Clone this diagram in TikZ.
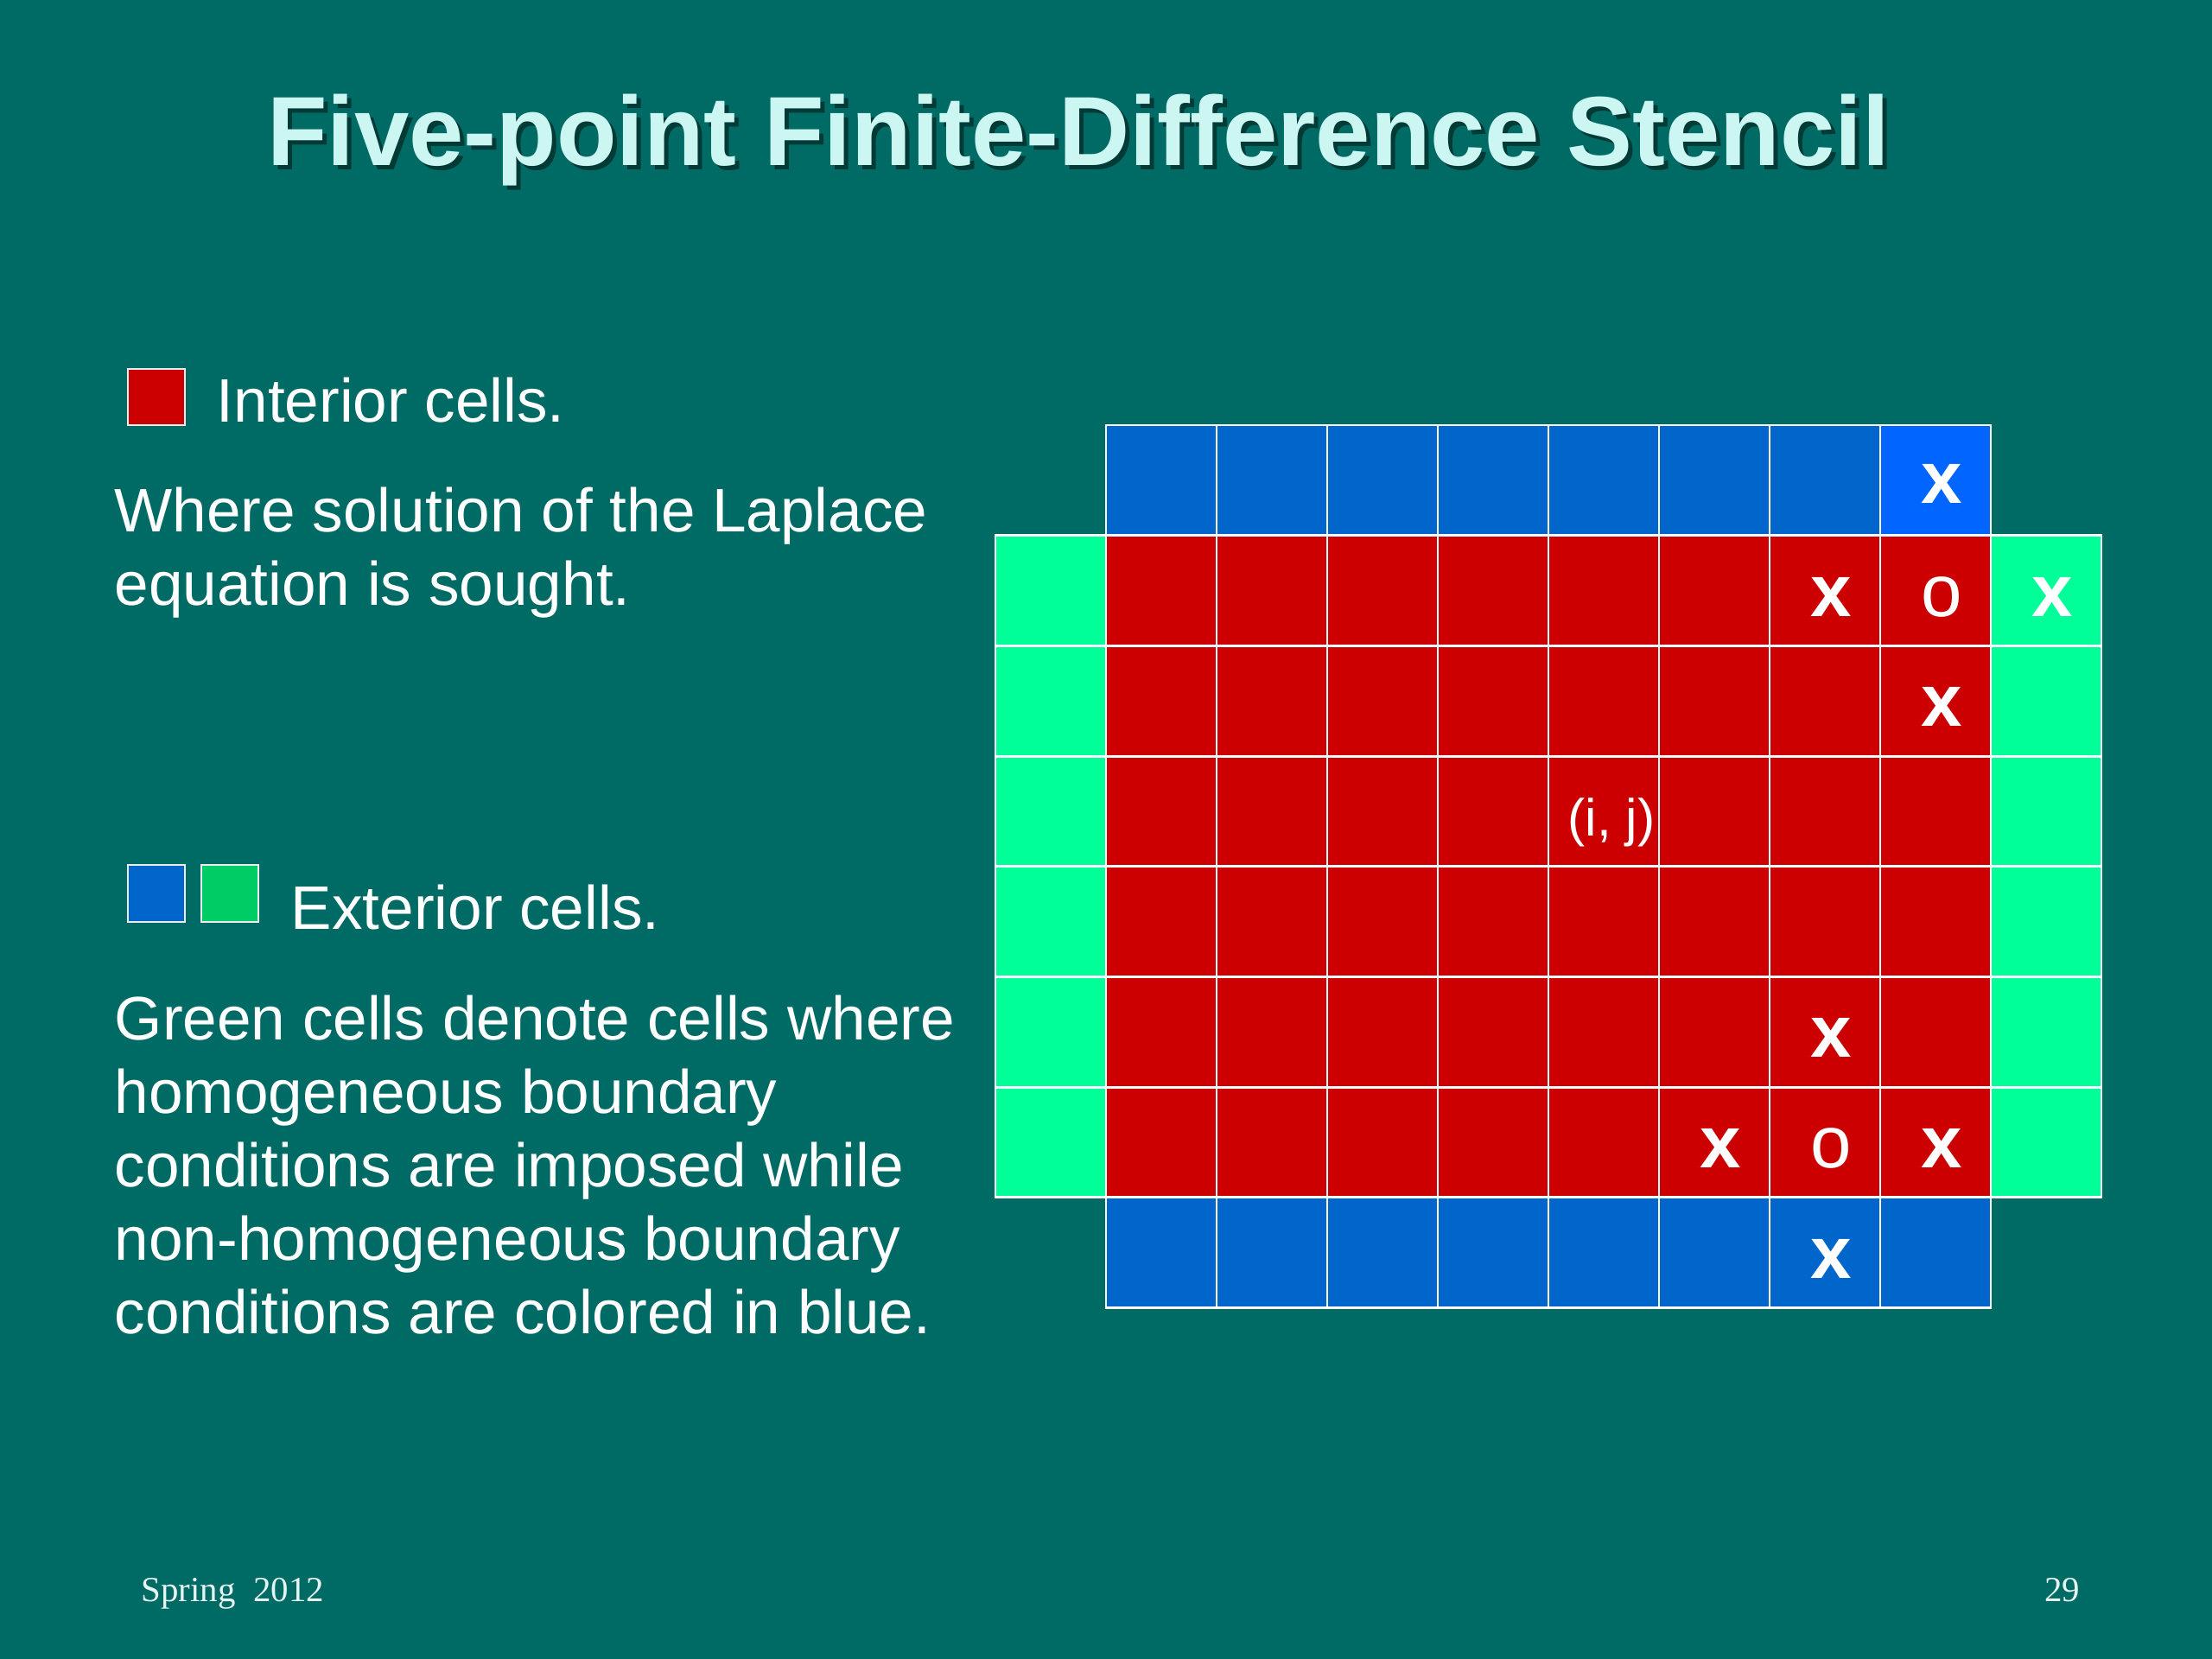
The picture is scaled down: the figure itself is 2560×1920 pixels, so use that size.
\documentclass[tikz,border=0pt]{standalone}
\usepackage{fontspec}
\setmainfont{Liberation Sans}
\newfontfamily\footfont{Liberation Serif}
\definecolor{bg}{HTML}{006A65}
\definecolor{cred}{HTML}{CC0000}
\definecolor{cblue}{HTML}{0066CC}
\definecolor{cbluebright}{HTML}{0066FF}
\definecolor{cgreen}{HTML}{00FF99}
\definecolor{lgreen}{HTML}{00CC66}
\definecolor{titlec}{HTML}{CCF6F2}
\definecolor{shadowc}{HTML}{023A36}
\definecolor{footc}{HTML}{E6F4F2}
\begin{document}
\begin{tikzpicture}[x=0.28125pt,y=-0.28125pt,
  body/.style={text=white, inner sep=0pt, anchor=base west, font=\fontsize{20}{24}\selectfont},
  cellbox/.style={draw=white, line width=0.8pt},
  legbox/.style={draw=white!85!gray, line width=0.6pt},
  xmark/.style={text=white, inner sep=0pt, font=\bfseries\fontsize{24}{28}\selectfont},
  omark/.style={text=white, inner sep=0pt, font=\fontsize{24}{28}\selectfont},
  titletext/.style={inner sep=0pt, anchor=base, font=\bfseries\fontsize{32}{38}\selectfont},
  foot/.style={text=footc, inner sep=0pt, font=\footfont\fontsize{11.5}{14}\selectfont}]
\fill[bg] (0,0) rectangle (2560,1920);
\useasboundingbox (0,0) rectangle (2560,1920);

% title
\node[titletext, text=shadowc] (titleshadow) at (1253,197) {Five-point Finite-Difference Stencil};
\node[titletext, text=titlec] (title) at (1248,192) {Five-point Finite-Difference Stencil};

% legend
\filldraw[legbox, fill=cred] (148,427) rectangle (214,492);
\node[body] (interior) at (250,489) {Interior cells.};
\node[body] (where1) at (132,616) {Where solution of the Laplace};
\node[body] (where2) at (132,701) {equation is sought.};

\filldraw[legbox, fill=cblue] (148,1001) rectangle (214,1067);
\filldraw[legbox, fill=lgreen] (233,1001) rectangle (299,1067);
\node[body] (exterior) at (336,1075) {Exterior cells.};
\node[body] (green1) at (132,1203) {Green cells denote cells where};
\node[body] (green2) at (132,1288) {homogeneous boundary};
\node[body] (green3) at (132,1373) {conditions are imposed while};
\node[body] (green4) at (132,1458) {non-homogeneous boundary};
\node[body] (green5) at (132,1543) {conditions are colored in blue.};

% grid
\def\cw{128}
\def\ch{127.7}
\def\gx{1280}
\def\gy{492}
% top blue row
\foreach \c in {0,...,6}
  \filldraw[cellbox, fill=cblue] ({\gx+\cw*\c},{\gy}) rectangle +(\cw,\ch);
\filldraw[cellbox, fill=cbluebright] ({\gx+\cw*7},{\gy}) rectangle +(\cw,\ch);
% red interior rows and green sides
\foreach \r in {1,...,6}{
  \filldraw[cellbox, fill=cgreen] ({\gx-\cw},{\gy+\ch*\r}) rectangle +(\cw,\ch);
  \filldraw[cellbox, fill=cgreen] ({\gx+\cw*8},{\gy+\ch*\r}) rectangle +(\cw,\ch);
  \foreach \c in {0,...,7}
    \filldraw[cellbox, fill=cred] ({\gx+\cw*\c},{\gy+\ch*\r}) rectangle +(\cw,\ch);
}
% bottom blue row
\foreach \c in {0,...,7}
  \filldraw[cellbox, fill=cblue] ({\gx+\cw*\c},{\gy+\ch*7}) rectangle +(\cw,\ch);

% marks (cell centre: x = gx + cw*(c+0.5), y = gy + ch*(r+0.5))
\node[xmark] (xa) at ({\gx+\cw*7.5+7},{\gy+\ch*0.5+4}) {x};
\node[xmark] (xb) at ({\gx+\cw*6.5+7},{\gy+\ch*1.5+7}) {x};
\node[omark] (oa) at ({\gx+\cw*7.5+7},{\gy+\ch*1.5+7}) {o};
\node[xmark] (xc) at ({\gx+\cw*8.5+7},{\gy+\ch*1.5+7}) {x};
\node[xmark] (xd) at ({\gx+\cw*7.5+7},{\gy+\ch*2.5+7}) {x};
\node[text=white, inner sep=0pt, font=\fontsize{17}{20}\selectfont] (ij) at (1865,952) {(i, j)};
\node[xmark] (xe) at ({\gx+\cw*6.5+7},{\gy+\ch*5.5+7}) {x};
\node[xmark] (xf) at ({\gx+\cw*5.5+7},{\gy+\ch*6.5+7}) {x};
\node[omark] (ob) at ({\gx+\cw*6.5+7},{\gy+\ch*6.5+7}) {o};
\node[xmark] (xg) at ({\gx+\cw*7.5+7},{\gy+\ch*6.5+7}) {x};
\node[xmark] (xh) at ({\gx+\cw*6.5+7},{\gy+\ch*7.5+7}) {x};

% footer
\node[foot, anchor=base west] (footl) at (163,1853) {Spring\ \ 2012};
\node[foot, anchor=base east] (footr) at (2408,1853) {29};
\end{tikzpicture}
\end{document}
